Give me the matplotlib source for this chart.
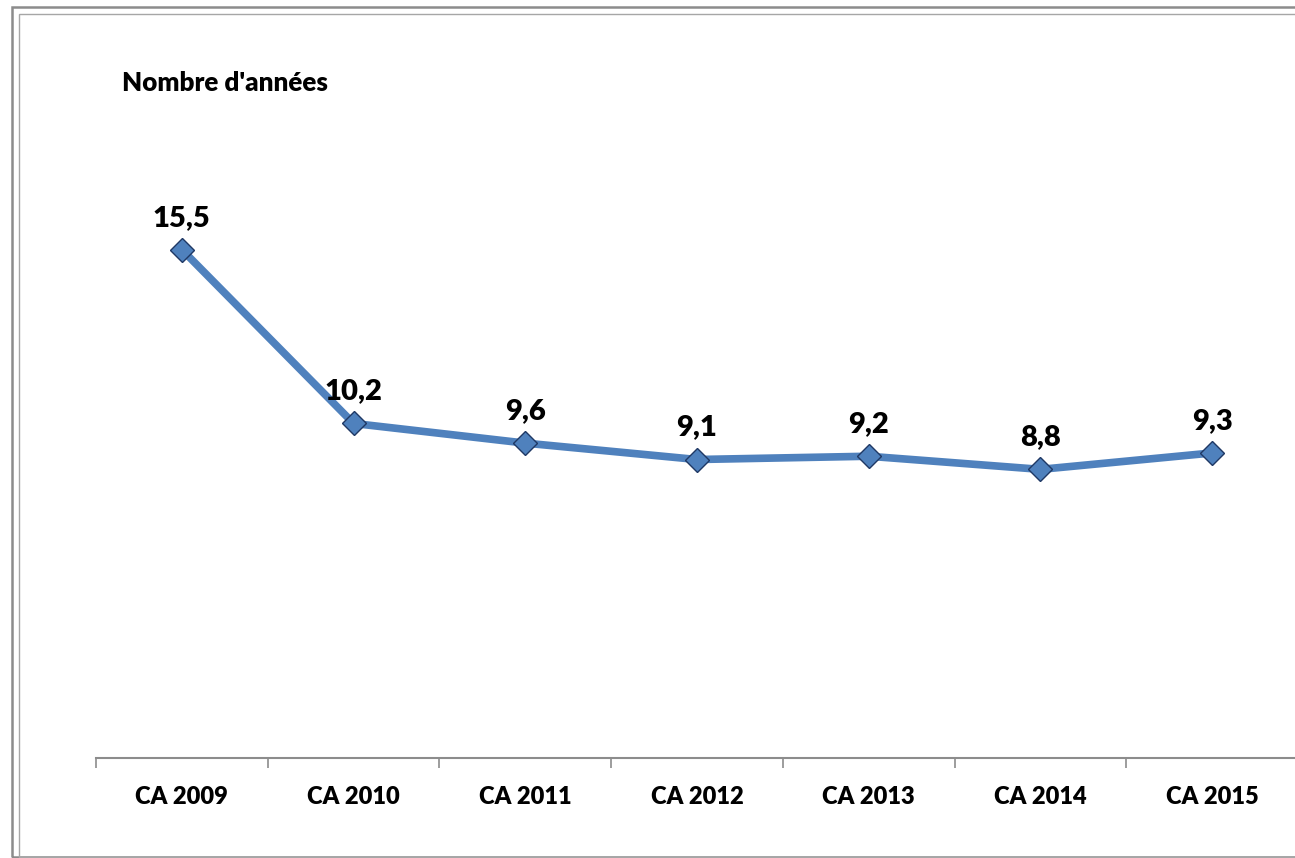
import matplotlib.pyplot as plt
import matplotlib.patches as patches

categories = ["CA 2009", "CA 2010", "CA 2011", "CA 2012", "CA 2013", "CA 2014", "CA 2015"]
values = [15.5, 10.2, 9.6, 9.1, 9.2, 8.8, 9.3]
labels = ["15,5", "10,2", "9,6", "9,1", "9,2", "8,8", "9,3"]

W, H = 1295, 858
fig = plt.figure(figsize=(W / 100, H / 100), dpi=100)
plt.rcParams['font.family'] = ['Lato', 'DejaVu Sans']

# chart frame (double grey border, cut at right edge)
fig.patches.append(patches.Rectangle((12 / W, 1 - 857 / H), 1.2, (857 - 7) / H, transform=fig.transFigure,
                                     fill=False, edgecolor='#8c8c8c', linewidth=1.8))
fig.patches.append(patches.Rectangle((19 / W, 1 - 857 / H), 1.2, (857 - 14) / H, transform=fig.transFigure,
                                     fill=False, edgecolor='#a6a6a6', linewidth=1.0))

# axes: left 96px, right 1298px, bottom 758px, top 102px
ax = fig.add_axes([96 / W, 1 - 758 / H, (1298 - 96) / W, (758 - 102) / H])
x = list(range(len(categories)))
ax.plot(x, values, color='#4F81BD', linewidth=5.5, marker='D', markersize=12,
        markerfacecolor='#4F81BD', markeredgecolor='#1F3864', markeredgewidth=1.0, zorder=3)

for xi, v, lab in zip(x, values, labels):
    ax.annotate(lab, (xi, v), xytext=(0, 23), textcoords='offset points',
                ha='center', va='center', fontsize=21, fontweight='heavy', color='black')

ax.set_xlim(-0.5, len(categories) - 0.5)
ax.set_ylim(0, 20)
ax.set_xticks(x)
ax.set_xticklabels(categories, fontsize=17, fontweight='heavy')
ax.set_xticks([i - 0.5 for i in range(len(categories) + 1)], minor=True)
ax.tick_params(axis='x', which='major', length=0, pad=20)
ax.tick_params(axis='x', which='minor', length=7, direction='out', color='#8c8c8c', width=1.2)
ax.set_yticks([])
for side in ['left', 'right', 'top']:
    ax.spines[side].set_visible(False)
ax.spines['bottom'].set_color('#8c8c8c')
ax.spines['bottom'].set_linewidth(1.5)
ax.set_facecolor('none')

fig.text(122 / W, 1 - 83 / H, "Nombre d'années", fontsize=18.7, fontweight='heavy', ha='left', va='center')

plt.savefig("out.png", dpi=100)
